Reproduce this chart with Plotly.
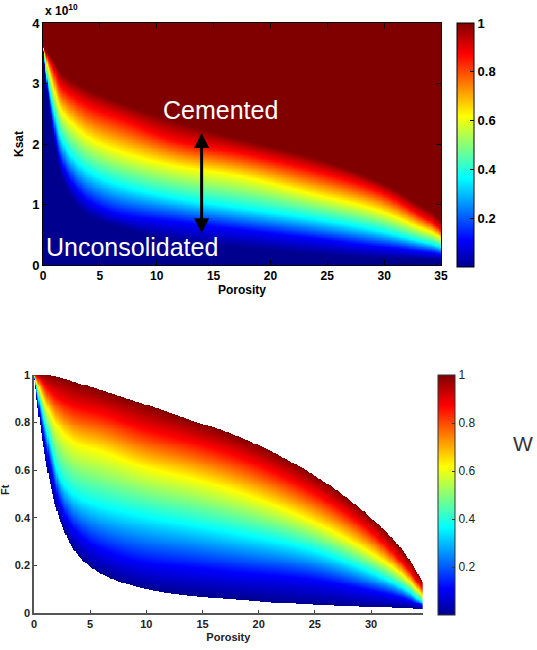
import numpy as np
import plotly.graph_objects as go

# ---------------- Data ----------------
# Colour value W of each traced level line (MATLAB-jet anchor colours)
w_levels = [0.0, 0.11, 0.365, 0.619, 0.873, 1.0]

# Top panel: Ksat (units of 1e10) of each W-level line, versus porosity
top_porosity = [0, 0.3, 0.9, 1.5, 2.7, 4.1, 6.8, 11.8, 17.5, 23.7, 29.3, 31.0, 33.2, 34.3, 35]
top_k_w000 = [3.62, 2.95, 2.10, 1.55, 1.05, 0.80, 0.62, 0.40, 0.28, 0.18, 0.12, 0.11, 0.10, 0.09, 0.08]
top_k_w011 = [3.62, 3.05, 2.30, 1.76, 1.32, 1.05, 0.83, 0.71, 0.58, 0.44, 0.30, 0.27, 0.22, 0.20, 0.17]
top_k_w037 = [3.62, 3.15, 2.60, 2.15, 1.76, 1.54, 1.32, 1.10, 0.94, 0.77, 0.58, 0.50, 0.39, 0.34, 0.29]
top_k_w062 = [3.62, 3.36, 2.95, 2.59, 2.31, 2.09, 1.87, 1.63, 1.46, 1.17, 0.91, 0.79, 0.61, 0.53, 0.44]
top_k_w087 = [3.62, 3.47, 3.25, 2.98, 2.78, 2.62, 2.42, 2.05, 1.85, 1.57, 1.24, 1.08, 0.82, 0.70, 0.58]
top_k_w100 = [3.62, 3.52, 3.40, 3.20, 3.03, 2.89, 2.68, 2.37, 2.07, 1.78, 1.40, 1.24, 0.98, 0.86, 0.72]

# Bottom panel: Ft of each W-level line, versus porosity (lower edge W=0, upper edge W=1)
bot_porosity = [0, 0.4, 0.9, 1.5, 2.3, 3.8, 5.9, 10, 14, 18, 24, 29.5, 33, 34.6]
bot_ft_w000 = [1.0, 0.84, 0.68, 0.53, 0.39, 0.25, 0.167, 0.10, 0.072, 0.058, 0.036, 0.025, 0.02, 0.015]
bot_ft_w011 = [1.0, 0.87, 0.74, 0.61, 0.46, 0.34, 0.27, 0.21, 0.19, 0.17, 0.145, 0.097, 0.06, 0.028]
bot_ft_w037 = [1.0, 0.91, 0.81, 0.70, 0.57, 0.49, 0.45, 0.405, 0.37, 0.335, 0.275, 0.18, 0.10, 0.045]
bot_ft_w062 = [1.0, 0.95, 0.89, 0.83, 0.77, 0.71, 0.68, 0.61, 0.565, 0.51, 0.40, 0.265, 0.15, 0.07]
bot_ft_w087 = [1.0, 0.99, 0.96, 0.93, 0.90, 0.865, 0.84, 0.77, 0.72, 0.66, 0.53, 0.36, 0.20, 0.10]
bot_ft_w100 = [1.0, 1.0, 1.0, 0.998, 0.99, 0.968, 0.937, 0.875, 0.81, 0.745, 0.605, 0.42, 0.25, 0.13]

x_ticks_top = [0, 5, 10, 15, 20, 25, 30, 35]
y_ticks_top = [0, 1, 2, 3, 4]
x_ticks_bot = [0, 5, 10, 15, 20, 25, 30]
y_ticks_bot = [0, 0.2, 0.4, 0.6, 0.8, 1]
cbar_ticks = [0.2, 0.4, 0.6, 0.8, 1]


# ---------------- Build fields ----------------
def pchip(xp, yp, x):
    xp = np.asarray(xp, float)
    yp = np.asarray(yp, float)
    h = np.diff(xp)
    d = np.diff(yp) / h
    n = len(xp)
    m = np.zeros(n)
    for k in range(1, n - 1):
        if d[k - 1] * d[k] <= 0:
            m[k] = 0.0
        else:
            w1 = 2 * h[k] + h[k - 1]
            w2 = h[k] + 2 * h[k - 1]
            m[k] = (w1 + w2) / (w1 / d[k - 1] + w2 / d[k])
    m[0] = d[0]
    m[-1] = d[-1]
    idx = np.clip(np.searchsorted(xp, x) - 1, 0, n - 2)
    t = (x - xp[idx]) / h[idx]
    h00 = 2 * t**3 - 3 * t**2 + 1
    h10 = t**3 - 2 * t**2 + t
    h01 = -2 * t**3 + 3 * t**2
    h11 = t**3 - t**2
    return h00 * yp[idx] + h10 * h[idx] * m[idx] + h01 * yp[idx + 1] + h11 * h[idx] * m[idx + 1]


def build_field(phi_pts, curves, xs, ys, mask):
    cur = np.array([pchip(phi_pts, c, xs) for c in curves])
    Z = np.empty((len(ys), len(xs)))
    eps = np.arange(len(curves)) * 1e-6
    for j in range(len(xs)):
        kp = np.maximum.accumulate(cur[:, j]) + eps
        col = np.interp(ys, kp, w_levels)
        if mask:
            col[(ys < kp[0]) | (ys > kp[-1])] = np.nan
        Z[:, j] = col
    return np.round(Z, 3)


xt = np.arange(0.05, 35.0, 0.1)
yt = np.arange(0.005, 4.0, 0.01)
Zt = build_field(top_porosity,
                 [top_k_w000, top_k_w011, top_k_w037, top_k_w062, top_k_w087, top_k_w100],
                 xt, yt, False)

xb = np.arange(0.05, 34.6, 0.1)
yb = np.arange(0.002, 1.0, 0.004)
Zb = build_field(bot_porosity,
                 [bot_ft_w000, bot_ft_w011, bot_ft_w037, bot_ft_w062, bot_ft_w087, bot_ft_w100],
                 xb, yb, True)

jet = [[0.0, 'rgb(0,0,143)'], [0.11, 'rgb(0,0,255)'], [0.365, 'rgb(0,255,255)'],
       [0.619, 'rgb(255,255,0)'], [0.873, 'rgb(255,0,0)'], [1.0, 'rgb(128,0,0)']]

W, H = 537, 650
def px(v): return v / W
def py(v): return 1 - v / H

FONT = 'Liberation Sans, Arial, sans-serif'
bold_black = dict(family=FONT, size=12, color='black', weight='bold')
bot_font = dict(family=FONT, size=11, color='#222', weight='bold')

fig = go.Figure()
fig.add_trace(go.Heatmap(
    x=xt, y=yt, z=Zt, xaxis='x', yaxis='y', colorscale=jet, zmin=0, zmax=1,
    hoverinfo='skip',
    colorbar=dict(x=px(456.7), xanchor='left', y=py(145), yanchor='middle',
                  len=244 / H, lenmode='fraction', thickness=17, thicknessmode='pixels',
                  xpad=0, ypad=0, outlinecolor='black', outlinewidth=1,
                  tickvals=cbar_ticks, ticktext=['0.2', '0.4', '0.6', '0.8', '1'],
                  ticks='inside', ticklen=4, tickcolor='black',
                  tickfont=dict(family=FONT, size=13, color='black', weight='bold'))))
fig.add_trace(go.Heatmap(
    x=xb, y=yb, z=Zb, xaxis='x2', yaxis='y2', colorscale=jet, zmin=0, zmax=1,
    hoverinfo='skip',
    colorbar=dict(x=px(437.7), xanchor='left', y=py(495), yanchor='middle',
                  len=240 / H, lenmode='fraction', thickness=17, thicknessmode='pixels',
                  xpad=0, ypad=0, outlinecolor='#333', outlinewidth=1,
                  tickvals=cbar_ticks, ticktext=['0.2', '0.4', '0.6', '0.8', '1'],
                  ticks='inside', ticklen=3, tickcolor='#333',
                  tickfont=dict(family=FONT, size=12, color='#222'))))

fig.update_layout(
    width=W, height=H, margin=dict(l=0, r=0, t=0, b=0),
    template='none', paper_bgcolor='white', plot_bgcolor='white', showlegend=False,
    xaxis=dict(domain=[px(43), px(441)], range=[0, 35], tickvals=x_ticks_top,
               ticks='inside', ticklen=5, tickcolor='black', showline=True, linecolor='black',
               linewidth=1, mirror='ticks', showgrid=False, zeroline=False, automargin=False,
               tickfont=bold_black, anchor='y',
               title=dict(text='Porosity', font=bold_black, standoff=2)),
    yaxis=dict(domain=[py(265), py(23)], range=[0, 4], tickvals=y_ticks_top,
               ticks='inside', ticklen=5, tickcolor='black', showline=True, linecolor='black',
               linewidth=1, mirror='ticks', showgrid=False, zeroline=False, automargin=False,
               tickfont=dict(family=FONT, size=13, color='black', weight='bold'), anchor='x',
               title=dict(text='Ksat', font=bold_black, standoff=5)),
    xaxis2=dict(domain=[px(34), px(422.7)], range=[0, 34.6], tickvals=x_ticks_bot,
                ticks='inside', ticklen=3, tickcolor='#444', showline=True, linecolor='#555',
                linewidth=1.5, mirror=False, showgrid=False, zeroline=False, automargin=False,
                tickfont=bot_font, anchor='y2',
                title=dict(text='Porosity', font=bot_font, standoff=4)),
    yaxis2=dict(domain=[py(613), py(375)], range=[0, 1], tickvals=y_ticks_bot,
                ticktext=['0', '0.2', '0.4', '0.6', '0.8', '1'],
                ticks='inside', ticklen=3, tickcolor='#444', showline=True, linecolor='#555',
                linewidth=1.5, mirror=False, showgrid=False, zeroline=False, automargin=False,
                tickfont=bot_font, anchor='x2'),
)

fig.add_annotation(xref='paper', yref='paper', x=px(43), y=py(20), xanchor='left', yanchor='bottom',
                   text='x 10<sup>10</sup>', showarrow=False,
                   font=dict(family=FONT, size=12, color='black', weight='bold'))
fig.add_annotation(xref='x', yref='y', x=15.57, y=2.56, text='Cemented', showarrow=False,
                   font=dict(family=FONT, size=25, color='white'))
fig.add_annotation(xref='x', yref='y', x=7.87, y=0.30, text='Unconsolidated', showarrow=False,
                   font=dict(family=FONT, size=25, color='white'))
fig.add_annotation(xref='x', yref='y', axref='x', ayref='y', x=13.95, y=2.18, ax=13.95, ay=0.5,
                   text='', showarrow=True, arrowhead=2, arrowside='end+start',
                   arrowwidth=3, arrowsize=1, arrowcolor='black')
fig.add_annotation(xref='paper', yref='paper', x=px(5), y=py(490), xanchor='center', yanchor='middle',
                   text='Ft', textangle=-90, showarrow=False, font=bot_font)
fig.add_annotation(xref='paper', yref='paper', x=px(523), y=py(443), xanchor='center', yanchor='middle',
                   text='W', showarrow=False, font=dict(family=FONT, size=21, color='#333'))

fig.write_html('out.html', config={'displayModeBar': False},
               post_script="document.body.style.margin='0';")
